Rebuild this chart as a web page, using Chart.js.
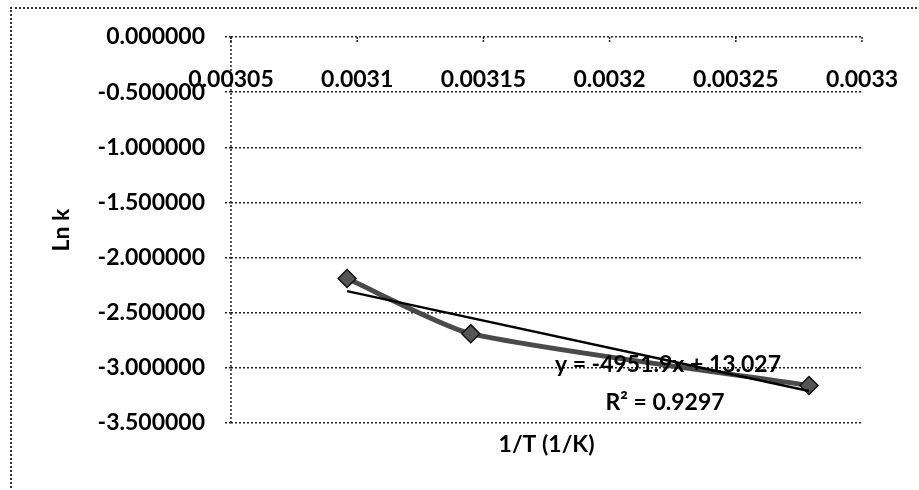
<!DOCTYPE html>
<html>
<head>
<meta charset="utf-8">
<script src="https://cdn.jsdelivr.net/npm/chart.js@4.4.1/dist/chart.umd.min.js"></script>
<style>
  body { margin: 0; background: #fff; }
  #wrap { position: relative; width: 919px; height: 490px; overflow: hidden; }
  #frame {
    position: absolute; left: 10px; top: 7px; right: -10px; bottom: -10px;
    border-left: 2px dotted #333; border-top: 2px dotted #333;
  }
  canvas { position: absolute; left: 0; top: 0; }
</style>
</head>
<body>
<div id="wrap">
  <div id="frame"></div>
  <canvas id="chart" width="919" height="490"></canvas>
</div>
<script>
// --- data ---
const invT = [0.003096, 0.003145, 0.003279];
const lnK = [-2.19, -2.69, -3.16];

// trendline shown on the chart
const slope = -4951.9;
const intercept = 13.027;
const eqText = "y = -4951.9x + 13.027";
const r2Text = "R\u00B2 = 0.9297";

const xTitle = "1/T (1/K)";
const yTitle = "Ln k";

const FONT = "Lato, 'Open Sans', sans-serif";
const FSIZE = 23;

const points = invT.map((x, i) => ({ x: x, y: lnK[i] }));
const xFirst = invT[0];
const xLast = invT[invT.length - 1];
const trend = [
  { x: xFirst, y: slope * xFirst + intercept },
  { x: xLast, y: slope * xLast + intercept }
];

// extra text: x tick labels under the top axis, titles, equation
const textPlugin = {
  id: "texts",
  beforeDatasetsDraw(chart) {
    // dotted left axis line
    const ctx = chart.ctx;
    const area = chart.chartArea;
    ctx.save();
    ctx.setLineDash([2, 2]);
    ctx.lineWidth = 1.5;
    ctx.strokeStyle = "#222";
    ctx.beginPath();
    ctx.moveTo(area.left, area.top);
    ctx.lineTo(area.left, area.bottom);
    ctx.stroke();
    ctx.restore();
  },
  afterDraw(chart) {
    const ctx = chart.ctx;
    const xs = chart.scales.x;
    const area = chart.chartArea;
    ctx.save();
    ctx.fillStyle = "#000";
    ctx.font = "bold " + FSIZE + "px " + FONT;
    ctx.textAlign = "center";
    ctx.textBaseline = "middle";

    xs.ticks.forEach(t => {
      const px = xs.getPixelForValue(t.value);
      ctx.fillText(String(parseFloat(t.value.toFixed(5))), px, 80);
      // little tick marks hanging from the top axis
      ctx.beginPath();
      ctx.setLineDash([2, 1]);
      ctx.lineWidth = 1.5;
      ctx.strokeStyle = "#222";
      ctx.moveTo(px, area.top);
      ctx.lineTo(px, area.top + 5);
      ctx.stroke();
    });

    ctx.fillText(xTitle, (area.left + area.right) / 2, 445);
    ctx.fillText(eqText, 668, 365);
    ctx.fillText(r2Text, 665, 403);

    ctx.translate(62, (area.top + area.bottom) / 2);
    ctx.rotate(-Math.PI / 2);
    ctx.fillText(yTitle, 0, 0);
    ctx.restore();
  }
};

new Chart(document.getElementById("chart"), {
  type: "scatter",
  data: {
    datasets: [
      {
        label: "trend",
        data: trend,
        showLine: true,
        borderColor: "#000",
        borderWidth: 2.5,
        pointRadius: 0
      },
      {
        label: "Ln k",
        data: points,
        showLine: true,
        tension: 0.2,
        borderColor: "#4a4a4a",
        borderWidth: 5,
        pointStyle: "rectRot",
        pointRadius: 9,
        pointBackgroundColor: "#555",
        pointBorderColor: "#111",
        pointBorderWidth: 1.5
      }
    ]
  },
  options: {
    responsive: false,
    animation: false,
    layout: { padding: { top: 37, right: 57, bottom: 67, left: 0 } },
    plugins: {
      legend: { display: false },
      tooltip: { enabled: false }
    },
    scales: {
      x: {
        type: "linear",
        min: 0.00305,
        max: 0.0033,
        ticks: { display: false, stepSize: 0.00005 },
        grid: { display: false },
        border: { display: false },
        afterFit: s => { s.height = 0; }
      },
      y: {
        min: -3.5,
        max: 0,
        ticks: {
          stepSize: 0.5,
          padding: 20,
          color: "#000",
          font: { family: FONT, size: FSIZE, weight: "bold" },
          callback: v => Number(v).toFixed(6)
        },
        grid: {
          color: "#222",
          lineWidth: 1.5,
          tickLength: 6,
          tickBorderDash: [2, 2]
        },
        border: { display: false, dash: [2, 2] },
        afterFit: s => { s.width = 231; }
      }
    }
  },
  plugins: [textPlugin]
});
</script>
</body>
</html>
